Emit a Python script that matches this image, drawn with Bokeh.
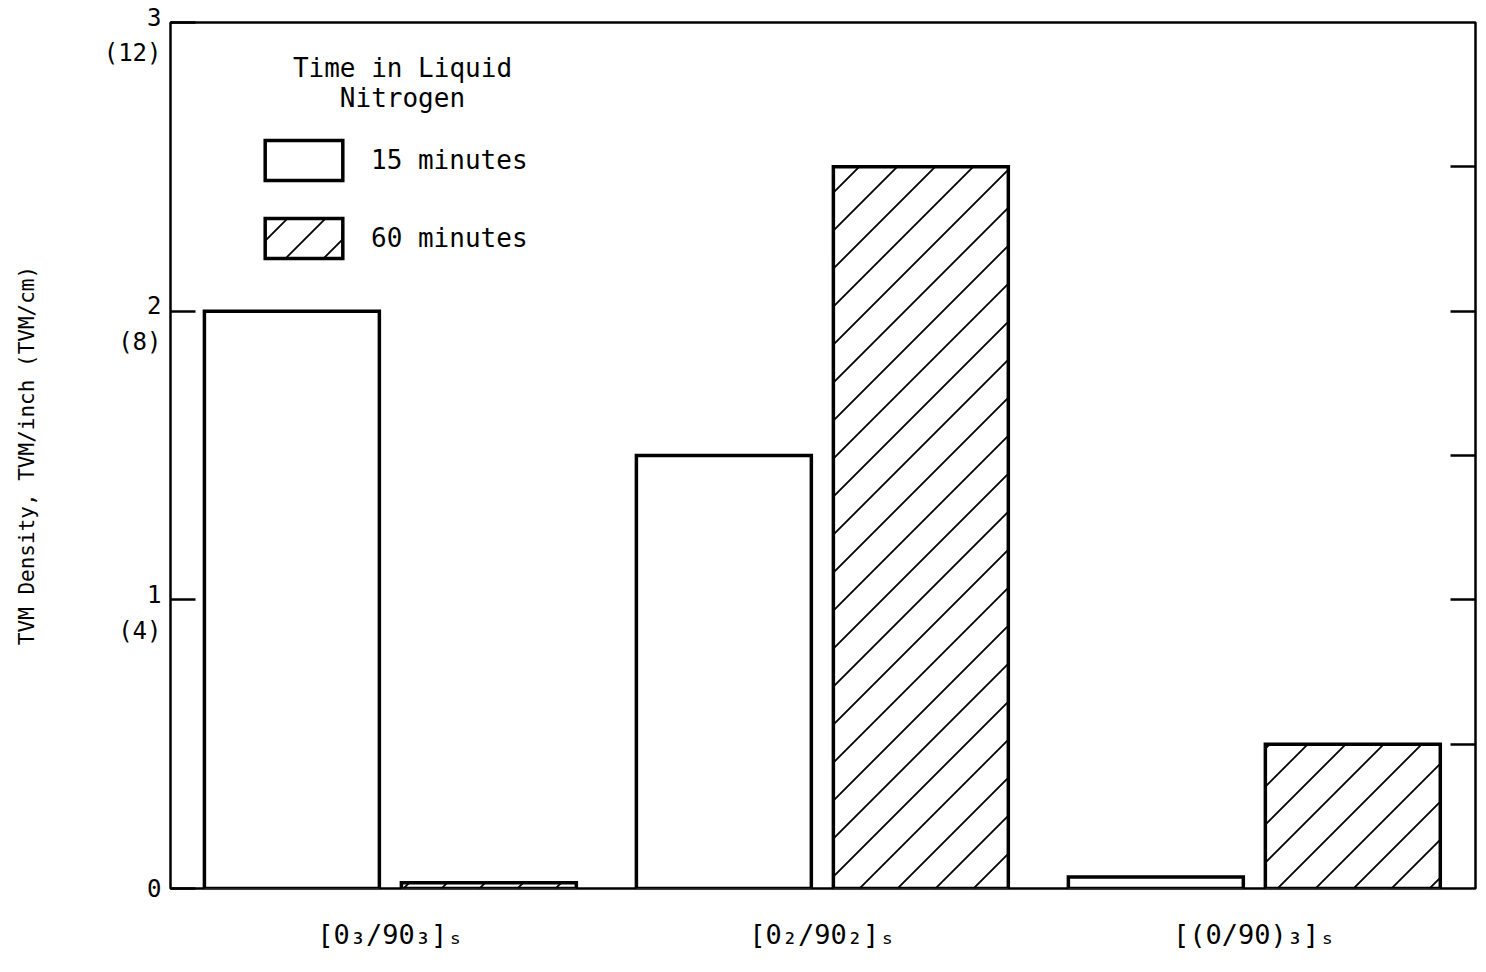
import base64
from bokeh.plotting import figure
from bokeh.models import (Range1d, FixedTicker, LinearAxis, Legend, LegendItem, Label,
                          ColumnDataSource, CustomJSTickFormatter, ImageURLTexture)
from bokeh.core.properties import value
from bokeh.transform import dodge
from bokeh.embed import file_html
from bokeh.resources import INLINE

# ---- data ----
groups = ["[0\u2083/90\u2083]\u209b", "[0\u2082/90\u2082]\u209b", "[(0/90)\u2083]\u209b"]
tvm_15min = [2.0, 1.5, 0.04]
tvm_60min = [0.02, 2.5, 0.5]
y_major_ticks = [0, 1, 2, 3]
y_major_labels = ["0", "1", "2", "3"]
y_cm_labels = ["", "(4)", "(8)", "(12)"]
right_ticks = [0.5, 1, 1.5, 2, 2.5]
legend_title = ["Time in Liquid", "Nitrogen"]
series_names = ["15 minutes", "60 minutes"]
y_title = "TVM Density, TVM/inch (TVM/cm)"

FONT = "DejaVu Sans Mono"

xs = list(range(len(groups)))
src = ColumnDataSource(dict(x=xs, v15=tvm_15min, v60=tvm_60min))

# 45-degree diagonal hatch tile
T = 38
tile = ('<svg xmlns="http://www.w3.org/2000/svg" width="%d" height="%d">'
        '<path d="M-4,4 L4,-4 M0,%d L%d,0 M%d,%d L%d,%d" stroke="black" stroke-width="1.8" fill="none"/>'
        '</svg>') % (T, T, T, T, T - 4, T + 4, T + 4, T - 4)
tex_url = "data:image/svg+xml;base64," + base64.b64encode(tile.encode()).decode()
diag = ImageURLTexture(url=tex_url, repetition="repeat")

Y_MAX = 3
FRAME_H = 866
X0, X1 = -0.509, 2.512
p = figure(width=1484, height=966, output_backend="svg", toolbar_location=None,
           x_range=Range1d(X0, X1), y_range=Range1d(0, Y_MAX),
           min_border_left=170, min_border_top=22, min_border_right=9, min_border_bottom=78)
p.background_fill_color = "white"
p.border_fill_color = "white"
p.outline_line_color = "black"
p.outline_line_width = 2.5
p.xgrid.visible = False
p.ygrid.visible = False

r15 = p.vbar(x=dodge("x", -0.228, range=p.x_range), top="v15", width=0.405, bottom=0,
             source=src, fill_color="white", line_color="black", line_width=3.5,
             line_join="miter")
r60 = p.vbar(x=dodge("x", 0.228, range=p.x_range), top="v60", width=0.405, bottom=0,
             source=src, fill_color="white", line_color="black", line_width=3.5,
             line_join="miter", hatch_pattern=value("diag"), hatch_extra={"diag": diag})

# x axis
xa = p.xaxis[0]
xa.ticker = FixedTicker(ticks=xs, minor_ticks=[])
xa.major_label_overrides = {i: g for i, g in enumerate(groups)}
xa.major_tick_line_color = None
xa.minor_tick_line_color = None
xa.axis_line_color = None
xa.major_label_text_font = FONT
xa.major_label_text_font_size = "27px"
xa.major_label_text_color = "black"
xa.major_label_standoff = 24

# left y axis: tick marks only (nearest the frame)
ya = p.yaxis[0]
ya.ticker = FixedTicker(ticks=y_major_ticks, minor_ticks=[])
ya.formatter = CustomJSTickFormatter(code="return ''")
ya.major_tick_in = 25
ya.major_tick_out = 0
ya.major_tick_line_width = 2.5
ya.major_tick_line_color = "black"
ya.axis_line_color = None
ya.minor_tick_line_color = None
ya.major_label_standoff = 0

# left y axis: two-line labels (first line sits at the tick)
shift = 13 * Y_MAX / FRAME_H
label_ticks = [t - shift if c else t for t, c in zip(y_major_ticks, y_cm_labels)]
label_text = {lt: (l + "\n" + c if c else l)
              for lt, l, c in zip(label_ticks, y_major_labels, y_cm_labels)}
yb = LinearAxis(ticker=FixedTicker(ticks=label_ticks, minor_ticks=[]),
                major_label_overrides=label_text,
                major_tick_line_color=None, minor_tick_line_color=None,
                axis_line_color=None, major_tick_in=0, major_tick_out=0,
                major_label_text_font=FONT, major_label_text_font_size="24px",
                major_label_text_color="black", major_label_text_line_height=1.27,
                major_label_standoff=9,
                axis_label=y_title, axis_label_text_font=FONT,
                axis_label_text_font_size="21px", axis_label_text_font_style="normal",
                axis_label_text_color="black", axis_label_standoff=62)
p.add_layout(yb, "left")

# right axis ticks
ra = LinearAxis(ticker=FixedTicker(ticks=right_ticks, minor_ticks=[]),
                formatter=CustomJSTickFormatter(code="return ''"),
                major_tick_in=25, major_tick_out=0, major_tick_line_width=2.5,
                axis_line_color=None, minor_tick_line_color=None,
                major_label_standoff=0)
p.add_layout(ra, "right")

# legend
legend = Legend(items=[LegendItem(label=series_names[0], renderers=[r15]),
                       LegendItem(label=series_names[1], renderers=[r60])],
                location=(85, 625), glyph_width=97, glyph_height=50, spacing=28,
                label_standoff=19, padding=0, margin=0,
                border_line_color=None, background_fill_alpha=0,
                label_text_font=FONT, label_text_font_size="26px",
                label_text_color="black")
p.add_layout(legend)

for txt, yy in zip(legend_title, [2.841, 2.740]):
    p.add_layout(Label(x=0.028, y=yy, text=txt, text_align="center", text_baseline="middle",
                       text_font=FONT, text_font_size="26px", text_color="black"))

open("out.html", "w").write(file_html(p, INLINE))
